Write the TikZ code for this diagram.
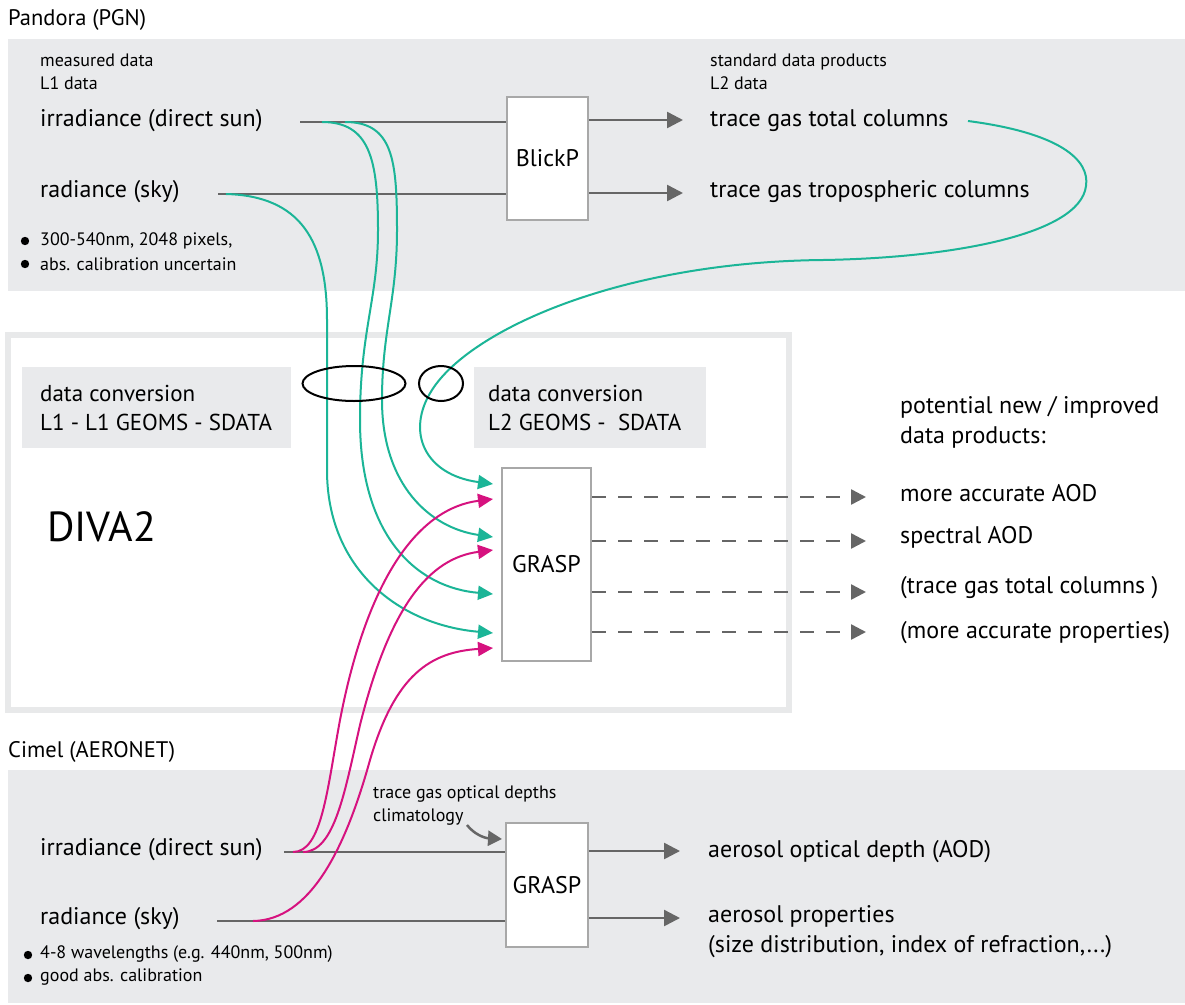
\documentclass[tikz,border=0pt]{standalone}
\usepackage{fontspec}
\setmainfont{PT Sans}
\usetikzlibrary{arrows.meta}
\definecolor{panel}{HTML}{E9EAEC}
\definecolor{tealc}{HTML}{1BB597}
\definecolor{magc}{HTML}{D6127F}
\definecolor{dgray}{HTML}{666666}
\definecolor{bord}{HTML}{A8A8A8}
\definecolor{divab}{HTML}{E8E9EA}
\begin{document}
\begin{tikzpicture}[x=1pt,y=-1pt,
  lbl/.style={anchor=west,inner sep=0pt,font=\fontsize{24}{30}\selectfont,align=left},
  small/.style={anchor=west,inner sep=0pt,align=left,font=\fontsize{18}{23}\selectfont},
  proc/.style={draw=bord,line width=2pt,fill=white,anchor=north west,inner sep=0pt,font=\fontsize{24}{28}\selectfont},
  convbox/.style={fill=panel,anchor=north west,inner sep=0pt,minimum height=81pt},
  convtxt/.style={anchor=west,inner sep=0pt,align=left,font=\fontsize{23}{29}\selectfont},
  flow/.style={draw=dgray,line width=2.5pt,-{Triangle[length=16pt,width=16pt]}},
  plain/.style={draw=dgray,line width=2.5pt},
  tl/.style={draw=tealc,line width=2pt,-{Triangle[length=15pt,width=14pt]}},
  mg/.style={draw=magc,line width=2pt,-{Triangle[length=15pt,width=14pt]}},
  dsh/.style={draw=dgray,line width=2.5pt,dash pattern=on 14pt off 12pt,-{Triangle[length=15pt,width=15pt]}},
  bul/.style={fill=black}
]
\useasboundingbox (0,0) rectangle (1185,1004);
\fill[white] (0,0) rectangle (1185,1004);
% panels
\fill[panel] (8,39) rectangle (1185,291);
\fill[panel] (8,770) rectangle (1185,1003);
\draw[divab,line width=6pt] (8,335) rectangle (789,710);

% ---------- Pandora ----------
\node[anchor=west,inner sep=0pt,font=\fontsize{22.5}{26}\selectfont] (pandora) at (8,20) {Pandora (PGN)};
\node[small] (meas) at (40,72) {measured data\\L1 data};
\node[lbl] (irrP) at (40,121) {irradiance (direct sun)};
\node[lbl] (radP) at (40,192) {radiance (sky)};
\fill[bul] (25,241) circle (4.2pt);
\fill[bul] (25,264) circle (4.2pt);
\node[small] (bp1) at (40,241) {300-540nm, 2048 pixels,};
\node[small] (bp2) at (40,264) {abs. calibration uncertain};

\node[proc,minimum width=81pt,minimum height=123pt] (blick) at (506,96) {BlickP};
\node[small] (std) at (710,72) {standard data products\\L2 data};
\node[lbl] (tgt) at (710,121) {trace gas total columns};
\node[lbl] (tgtr) at (710,192) {trace gas tropospheric columns};

\coordinate (irrPs) at (300,122);
\coordinate (radPs) at (218,194);
\draw[plain] (irrPs) -- (blick.west |- irrPs);
\draw[plain] (radPs) -- (blick.west |- radPs);
\coordinate (o1) at (683,120);
\coordinate (o2) at (683,193);
\draw[flow] (blick.east |- o1) -- (o1);
\draw[flow] (blick.east |- o2) -- (o2);

% ---------- DIVA2 ----------
\node[convbox,minimum width=269pt] (conv1) at (22,367) {};
\node[convbox,minimum width=232pt] (conv2) at (474,367) {};
\node[convtxt] (conv1t) at (40,408) {data conversion\\L1 - L1 GEOMS - SDATA};
\node[convtxt] (conv2t) at (488,408) {data conversion\\L2 GEOMS -\ \ SDATA};
\node[anchor=west,inner sep=0pt,font=\fontsize{42}{48}\selectfont] (diva) at (47,527) {DIVA2};

\node[proc,minimum width=89pt,minimum height=193pt] (gm) at (501,467) {GRASP};

\node[lbl] (pot) at (900,422) {potential new / improved\\data products:};
\node[lbl] (r1) at (900,493) {more accurate AOD};
\node[lbl] (r2) at (900,537) {spectral AOD};
\node[lbl] (r3) at (900,588) {(trace gas total columns )};
\node[lbl] (r4) at (900,633) {(more accurate properties)};
\coordinate (d1) at (866,497);
\coordinate (d2) at (866,541);
\coordinate (d3) at (866,592);
\coordinate (d4) at (866,632);
\draw[dsh] (gm.east |- d1) -- (d1);
\draw[dsh] (gm.east |- d2) -- (d2);
\draw[dsh] (gm.east |- d3) -- (d3);
\draw[dsh] (gm.east |- d4) -- (d4);

% ---------- Cimel ----------
\node[anchor=west,inner sep=0pt,font=\fontsize{22.5}{26}\selectfont] (cimel) at (8,752) {Cimel (AERONET)};
\node[small] (clim) at (373,806) {trace gas optical depths\\climatology};
\node[lbl] (irrC) at (40,850) {irradiance (direct sun)};
\node[lbl] (radC) at (40,919) {radiance (sky)};
\fill[bul] (28,955) circle (4.2pt);
\fill[bul] (28,978) circle (4.2pt);
\node[small] (bc1) at (40,954) {4-8 wavelengths (e.g. 440nm, 500nm)};
\node[small] (bc2) at (40,977) {good abs. calibration};

\node[proc,minimum width=82pt,minimum height=124pt] (gb) at (505,822) {GRASP};
\node[lbl] (aod) at (708,852) {aerosol optical depth (AOD)};
\node[lbl] (aprop) at (708,932) {aerosol properties\\(size distribution, index of refraction,...)};

\coordinate (irrCs) at (284,852);
\coordinate (radCs) at (217,921);
\draw[plain] (irrCs) -- (gb.west |- irrCs);
\draw[plain] (radCs) -- (gb.west |- radCs);
\coordinate (c1) at (680,851);
\coordinate (c2) at (680,918);
\draw[flow] (gb.east |- c1) -- (c1);
\draw[flow] (gb.east |- c2) -- (c2);
\coordinate (climE) at (467,825);
\coordinate (climT) at (502,839);
\draw[draw=dgray,line width=2.5pt,-{Triangle[length=14pt,width=15pt]}] (climE) .. controls (474,834) and (484,838) .. (climT);

% ---------- teal connectors ----------
\coordinate (tA) at (226,194);
\coordinate (tB) at (322,122);
\coordinate (tC) at (345,122);
\coordinate (g1) at (493,484);
\coordinate (g2) at (493,537);
\coordinate (g3) at (493,594);
\coordinate (g4) at (493,633);
\coordinate (m1) at (493,499);
\coordinate (m2) at (493,550);
\coordinate (m3) at (493,648);
\coordinate (l2s) at (968,121);

\draw[tl] (tA) .. controls (300,196) and (327,240) .. (327,320) -- (327,470) .. controls (327,570) and (400,625) .. (g4);
\draw[tl] (tB) .. controls (370,122) and (378,160) .. (378,230) .. controls (378,300) and (360,330) .. (360,420) .. controls (360,540) and (420,588) .. (g3);
\draw[tl] (tC) .. controls (393,122) and (397,160) .. (397,230) .. controls (397,300) and (382,330) .. (382,400) .. controls (382,485) and (430,528) .. (g2);
\draw[tl] (l2s) .. controls (1060,133) and (1090,160) .. (1086,186) .. controls (1080,235) and (950,258) .. (823,260) .. controls (620,262) and (470,330) .. (432,390) .. controls (405,432) and (425,475) .. (g1);

% ---------- magenta connectors ----------
\coordinate (mA) at (293,852);
\coordinate (mB) at (303,852);
\coordinate (mC) at (253,921);
\draw[mg] (mA) .. controls (322,852) and (327,790) .. (340,720) .. controls (368,575) and (420,508) .. (m1);
\draw[mg] (mB) .. controls (335,852) and (345,790) .. (360,725) .. controls (390,605) and (430,558) .. (m2);
\draw[mg] (mC) .. controls (310,920) and (345,850) .. (370,760) .. controls (395,675) and (430,652) .. (m3);

% ellipses
\draw[line width=2pt] (354,383.5) ellipse [x radius=51.5pt, y radius=17.5pt];
\draw[line width=2pt] (441,383.5) ellipse [x radius=22pt, y radius=17.5pt];
\end{tikzpicture}
\end{document}
